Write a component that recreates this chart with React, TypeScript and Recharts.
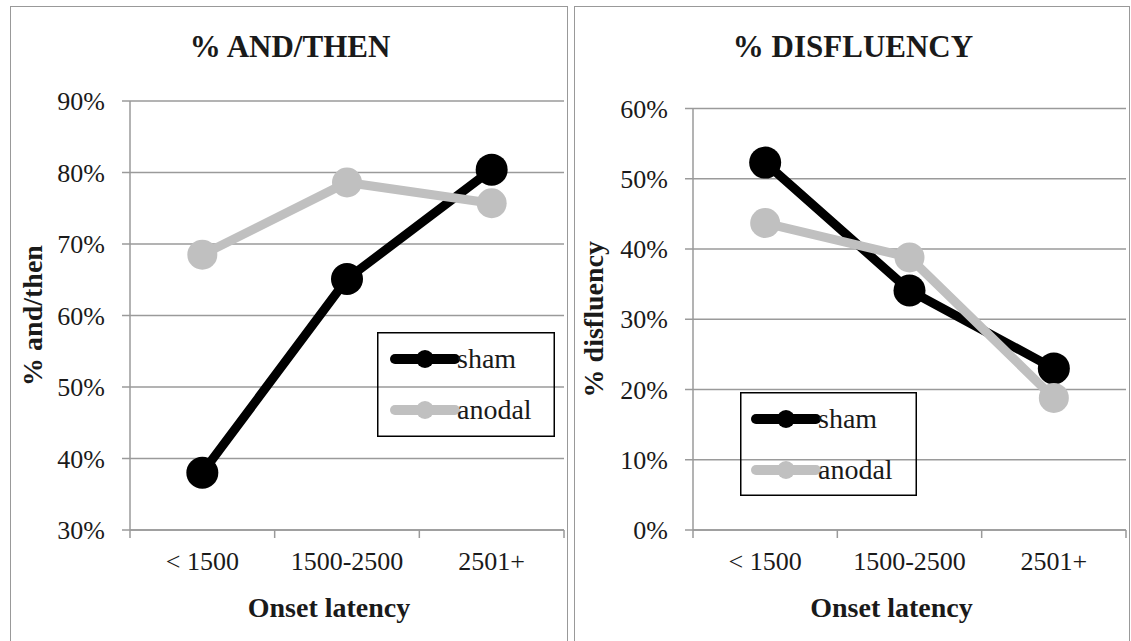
import React from 'react';
import { LineChart, Line, XAxis, YAxis, CartesianGrid, Legend } from 'recharts';

const categories = ['< 1500', '1500-2500', '2501+'];
const seriesNames = ['sham', 'anodal'];
const andThenSham = [38.0, 65.1, 80.4];
const andThenAnodal = [68.5, 78.6, 75.7];
const disfluencySham = [52.3, 34.1, 23.0];
const disfluencyAnodal = [43.7, 38.8, 18.8];
const andThenTicks = [30, 40, 50, 60, 70, 80, 90];
const disfluencyTicks = [0, 10, 20, 30, 40, 50, 60];

const FONT = '"Liberation Serif", "Times New Roman", serif';
const GRID = '#9a9a9a';
const TEXT = '#1a1a1a';
const SHAM = '#000000';
const ANODAL = '#c0c0c0';

const buildData = (sham: number[], anodal: number[]) =>
  categories.map((c, i) => ({ cat: c, sham: sham[i], anodal: anodal[i] }));

const andThenData = buildData(andThenSham, andThenAnodal);
const disfluencyData = buildData(disfluencySham, disfluencyAnodal);

type PanelCfg = {
  chartLeft: number;
  chartWidth: number;
  yAxisWidth: number;
  marginTop: number;
  marginRight: number;
  yLabelX: number;
  xLabelShift: number;
  title: string;
  titleX: number;
  yLabel: string;
  data: any[];
  domain: [number, number];
  ticks: number[];
  legend: { left: number; top: number; width: number; height: number; lineX: number };
};

const CHART_H = 641;
const X_AXIS_H = 111;

const makeXTick = (half: number) => (props: any) => {
  const { x, y, payload, index } = props;
  const last = index === categories.length - 1;
  return (
    <g>
      <line x1={x - half} x2={x - half} y1={y} y2={y + 8} stroke={GRID} strokeWidth={1.5} />
      {last && <line x1={x + half} x2={x + half} y1={y} y2={y + 8} stroke={GRID} strokeWidth={1.5} />}
      <text x={x} y={y + 40} textAnchor="middle" fontSize={26} fontFamily={FONT} fill={TEXT}>
        {payload.value}
      </text>
    </g>
  );
};

const makeLegend = (cfg: PanelCfg) => (props: any) => {
  const payload = [...(props.payload || [])].sort(
    (a: any, b: any) => seriesNames.indexOf(a.value) - seriesNames.indexOf(b.value)
  );
  const { width, height, lineX } = cfg.legend;
  const rows = [27, 78];
  return (
    <svg width={width} height={height} style={{ display: 'block', overflow: 'visible' }}>
      <rect x={0.75} y={0.75} width={width - 1.5} height={height - 1.5} fill="none" stroke="#000" strokeWidth={1.5} />
      {payload.map((entry: any, i: number) => (
        <g key={entry.value}>
          <line x1={lineX} x2={lineX + 60} y1={rows[i]} y2={rows[i]} stroke={entry.color} strokeWidth={10} strokeLinecap="round" />
          <circle cx={lineX + 30} cy={rows[i]} r={9} fill={entry.color} />
          <text x={lineX + 62} y={rows[i] + 9} fontSize={28} fontFamily={FONT} fill={TEXT}>
            {entry.value}
          </text>
        </g>
      ))}
    </svg>
  );
};

const Panel = ({ cfg }: { cfg: PanelCfg }) => {
  const plotWidth = cfg.chartWidth - cfg.yAxisWidth - cfg.marginRight;
  const pad = plotWidth / 6;
  return (
    <div style={{ position: 'absolute', left: cfg.chartLeft, top: 0, width: cfg.chartWidth, height: CHART_H }}>
      <LineChart
        width={cfg.chartWidth}
        height={CHART_H}
        data={cfg.data}
        margin={{ top: cfg.marginTop, right: cfg.marginRight, bottom: 0, left: 0 }}
      >
        <CartesianGrid vertical={false} stroke={GRID} strokeWidth={1.5} />
        <XAxis
          dataKey="cat"
          height={X_AXIS_H}
          padding={{ left: pad, right: pad }}
          axisLine={{ stroke: GRID, strokeWidth: 1.5 }}
          tickLine={false}
          tickSize={0}
          tickMargin={0}
          interval={0}
          tick={makeXTick(pad)}
          label={{
            content: (p: any) => {
              const vb = p.viewBox || {};
              return (
                <text
                  x={vb.x + vb.width / 2 + cfg.xLabelShift}
                  y={617}
                  textAnchor="middle"
                  fontSize={28}
                  fontWeight="bold"
                  fontFamily={FONT}
                  fill={TEXT}
                >
                  Onset latency
                </text>
              );
            },
          }}
        />
        <YAxis
          width={cfg.yAxisWidth}
          domain={cfg.domain}
          ticks={cfg.ticks}
          interval={0}
          allowDataOverflow
          axisLine={{ stroke: GRID, strokeWidth: 1.5 }}
          tickLine={{ stroke: GRID, strokeWidth: 1.5 }}
          tickSize={8}
          tickMargin={17}
          tickFormatter={(v: number) => `${v}%`}
          tick={{ fontSize: 26, fontFamily: FONT, fill: TEXT }}
          label={{
            content: (p: any) => {
              const vb = p.viewBox || {};
              const cx = vb.x + cfg.yLabelX;
              const cy = vb.y + vb.height / 2;
              return (
                <text
                  x={cx}
                  y={cy}
                  transform={`rotate(-90 ${cx} ${cy})`}
                  textAnchor="middle"
                  fontSize={28}
                  fontWeight="bold"
                  fontFamily={FONT}
                  fill={TEXT}
                >
                  {cfg.yLabel}
                </text>
              );
            },
          }}
        />
        <Legend
          layout="horizontal"
          verticalAlign="middle"
          align="center"
          wrapperStyle={{
            left: cfg.legend.left,
            top: cfg.legend.top,
            width: cfg.legend.width,
            height: cfg.legend.height,
          }}
          content={makeLegend(cfg)}
        />
        <Line
          dataKey="sham"
          name={seriesNames[0]}
          stroke={SHAM}
          strokeWidth={9}
          dot={{ r: 16, fill: SHAM, stroke: 'none' }}
          activeDot={false}
          isAnimationActive={false}
        />
        <Line
          dataKey="anodal"
          name={seriesNames[1]}
          stroke={ANODAL}
          strokeWidth={9}
          dot={{ r: 15, fill: ANODAL, stroke: 'none' }}
          activeDot={false}
          isAnimationActive={false}
        />
      </LineChart>
    </div>
  );
};

const leftCfg: PanelCfg = {
  chartLeft: 0,
  chartWidth: 568,
  yAxisWidth: 130,
  marginTop: 101,
  marginRight: 4,
  yLabelX: 42,
  xLabelShift: -18,
  title: '% AND/THEN',
  titleX: 290,
  yLabel: '% and/then',
  data: andThenData,
  domain: [30, 90],
  ticks: andThenTicks,
  legend: { left: 377, top: 332, width: 178, height: 105, lineX: 18 },
};

const rightCfg: PanelCfg = {
  chartLeft: 568,
  chartWidth: 563,
  yAxisWidth: 125,
  marginTop: 108.5,
  marginRight: 5,
  yLabelX: 35,
  xLabelShift: -18,
  title: '% DISFLUENCY',
  titleX: 853,
  yLabel: '% disfluency',
  data: disfluencyData,
  domain: [0, 60],
  ticks: disfluencyTicks,
  legend: { left: 172, top: 392, width: 177, height: 104, lineX: 16 },
};

export default function App() {
  return (
    <div
      style={{
        position: 'absolute',
        left: 0,
        top: 0,
        width: 1131,
        height: 641,
        overflow: 'hidden',
        background: '#fff',
      }}
    >
      <div
        style={{
          position: 'absolute',
          left: 10,
          top: 6,
          width: 558,
          height: 700,
          border: '1.5px solid #999',
          boxSizing: 'border-box',
        }}
      />
      <div
        style={{
          position: 'absolute',
          left: 574,
          top: 6,
          width: 556,
          height: 700,
          border: '1.5px solid #999',
          boxSizing: 'border-box',
        }}
      />
      <Panel cfg={leftCfg} />
      <Panel cfg={rightCfg} />
      <svg
        width={1131}
        height={641}
        style={{ position: 'absolute', left: 0, top: 0, pointerEvents: 'none' }}
      >
        {[leftCfg, rightCfg].map((c) => (
          <text
            key={c.title}
            x={c.titleX}
            y={57}
            textAnchor="middle"
            fontSize={31}
            fontWeight="bold"
            fontFamily={FONT}
            fill={TEXT}
          >
            {c.title}
          </text>
        ))}
      </svg>
    </div>
  );
}
